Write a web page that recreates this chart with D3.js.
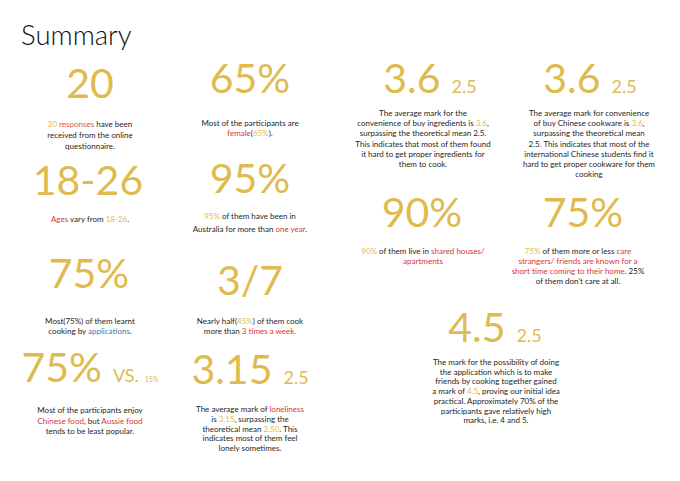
<!DOCTYPE html>
<html>
<head>
<meta charset="utf-8">
<script src="https://cdn.jsdelivr.net/npm/d3@7"></script>
<style>
  body { margin: 0; background: #fff; }
  svg { display: block; }
</style>
</head>
<body>
<svg id="chart" width="680" height="481"></svg>
<script>
// headline figures for each card
const bigValues = ["20", "65%", "3.6", "3.6", "18-26", "95%", "90%", "75%", "75%", "3/7", "75%", "3.15", "4.5"];
// smaller figure next to the headline ("" when none)
const subValues = ["", "", "2.5", "2.5", "", "", "", "", "", "", "VS.", "2.5", "2.5"];
const tinyValues = ["", "", "", "", "", "", "", "", "", "", "15%", "", ""];

// description lines, each a list of [text, colourKey] pieces
const descriptions = [
  [[["20 ", "g"], ["responses", "o"], [" have been"]], [["received from the online"]], [["questionnaire."]]],
  [[["Most of the participants are"]], [["female", "r"], ["("], ["65%", "g"], [")."]]],
  [[["The average mark for the"]],
   [["convenience of buy ingredients is "], ["3.6", "g"], [","]],
   [["surpassing the theoretical mean 2.5."]],
   [["This indicates that most of them found"]],
   [["it hard to get proper ingredients for"]],
   [["them to cook."]]],
  [[["The average mark for convenience"]],
   [["of buy Chinese cookware is "], ["3.6", "g"], [","]],
   [["surpassing the theoretical mean"]],
   [["2.5. This indicates that most of the"]],
   [["international Chinese students find it"]],
   [["hard to get proper cookware for them"]],
   [["cooking"]]],
  [[["Ages", "r"], [" vary from "], ["18-26", "g"], ["."]]],
  [[["95%", "g"], [" of them have been in"]], [["Australia for more than "], ["one year", "r"], ["."]]],
  [[["90%", "g"], [" of them live in "], ["shared houses/", "r"]], [["apartments", "r"]]],
  [[["75%", "g"], [" of them more or less "], ["care", "r"]],
   [["strangers/ friends are known for a", "r"]],
   [["short time coming to their home", "r"], [". 25%"]],
   [["of them don't care at all."]]],
  [[["Most(75%) of them learnt"]], [["cooking by "], ["applications", "b"], ["."]]],
  [[["Nearly half("], ["45%", "g"], [") of them cook"]], [["more than "], ["3 times a week.", "r"]]],
  [[["Most of the participants enjoy"]], [["Chinese food", "r"], [", but "], ["Aussie food", "r"]], [["tends to be least popular."]]],
  [[["The average mark of "], ["loneliness", "r"]],
   [["is "], ["3.15", "g"], [", surpassing the"]],
   [["theoretical mean "], ["2.50", "g"], [". This"]],
   [["indicates most of them feel"]],
   [["lonely sometimes."]]],
  [[["The mark for the possibility of doing"]],
   [["the application which is to make"]],
   [["friends by cooking together gained"]],
   [["a mark of "], ["4.5", "g"], [", proving our initial idea"]],
   [["practical. Approximately 70% of the"]],
   [["participants gave relatively high"]],
   [["marks, i.e. 4 and 5."]]]
];

// card placement: number centre, number baseline, text centre, first text baseline, line step
const layout = [
  {nx: 90,  ny: 98,  tx: 90,  ty: 127, lh: 11},
  {nx: 250, ny: 93,  tx: 250, ty: 126, lh: 10},
  {nx: 430, ny: 93,  tx: 423, ty: 116, lh: 10.2},
  {nx: 590, ny: 93,  tx: 589, ty: 116, lh: 10.2},
  {nx: 88,  ny: 195, tx: 90,  ty: 222, lh: 10},
  {nx: 250, ny: 193, tx: 250, ty: 219, lh: 13},
  {nx: 422, ny: 227, tx: 423, ty: 254, lh: 9.5},
  {nx: 583, ny: 227, tx: 578, ty: 254, lh: 10},
  {nx: 89,  ny: 288, tx: 90,  ty: 324, lh: 10},
  {nx: 250, ny: 295, tx: 250, ty: 324, lh: 10},
  {nx: 90,  ny: 382, tx: 90,  ty: 413, lh: 10.5},
  {nx: 250, ny: 384, tx: 250, ty: 412, lh: 9.8},
  {nx: 495, ny: 342, tx: 496, ty: 365, lh: 9.7}
];

const COLORS = {
  g: "#dfbb4f",
  r: "#d8343a",
  o: "#e0573f",
  b: "#4c70b5",
  d: "#1e1e1e"
};

const svg = d3.select("#chart");
const font = "Lato, 'Noto Sans', sans-serif";

svg.append("text")
  .attr("x", 21)
  .attr("y", 45)
  .attr("font-family", font)
  .attr("font-weight", 300)
  .attr("font-size", 27.5)
  .attr("fill", "#111")
  .text("Summary");

const cards = svg.selectAll("g.card")
  .data(bigValues.map((v, i) => ({big: v, sub: subValues[i], tiny: tinyValues[i], lines: descriptions[i], pos: layout[i]})))
  .join("g")
  .attr("class", "card");

// headline number (plus optional smaller figures)
const num = cards.append("text")
  .attr("x", d => d.pos.nx)
  .attr("y", d => d.pos.ny)
  .attr("text-anchor", "middle")
  .attr("font-family", font)
  .attr("font-weight", 400)
  .attr("fill", COLORS.g);

num.append("tspan")
  .attr("font-size", 41)
  .text(d => d.big);

num.filter(d => d.sub !== "")
  .append("tspan")
  .attr("dx", 11)
  .attr("font-size", 18)
  .text(d => d.sub);

num.filter(d => d.tiny !== "")
  .append("tspan")
  .attr("dx", 6)
  .attr("font-size", 7)
  .text(d => d.tiny);

// description text, line by line
cards.each(function(d) {
  const g = d3.select(this);
  d.lines.forEach((line, j) => {
    const t = g.append("text")
      .attr("x", d.pos.tx)
      .attr("y", d.pos.ty + j * d.pos.lh)
      .attr("text-anchor", "middle")
      .attr("font-family", font)
      .attr("font-size", 8)
      .attr("fill", COLORS.d);
    t.selectAll("tspan")
      .data(line)
      .join("tspan")
      .attr("fill", p => COLORS[p[1] || "d"])
      .style("white-space", "pre")
      .text(p => p[0]);
  });
});
</script>
</body>
</html>
